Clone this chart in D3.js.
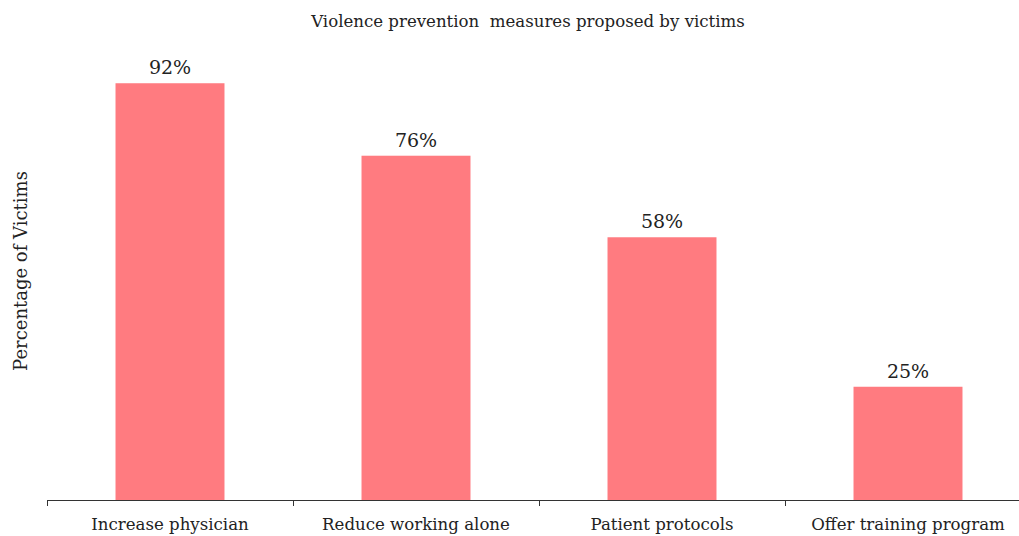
<!DOCTYPE html>
<html><head><meta charset="utf-8">
<script src="https://cdn.jsdelivr.net/npm/d3@7"></script>
<style>body{margin:0;background:#fff;}svg{display:block;}text{font-family:"DejaVu Serif",serif;fill:#222;}</style>
</head><body>
<svg id="c" width="1019" height="536"></svg>
<script>
const categories = ["Increase physician", "Reduce working alone", "Patient protocols", "Offer training program"];
const values = [92, 76, 58, 25];
const valueLabels = ["92%", "76%", "58%", "25%"];
const title = "Violence prevention  measures proposed by victims";
const yLabel = "Percentage of Victims";

const svg = d3.select("#c");
const x = d3.scaleBand().domain(categories).range([47, 1031]).paddingInner(0.557).paddingOuter(0.2785);
const y = d3.scaleLinear().domain([0, 100]).range([500, 47]);

svg.selectAll("rect.bar").data(values).enter().append("rect")
  .attr("class", "bar")
  .attr("x", (d, i) => x(categories[i]))
  .attr("width", x.bandwidth())
  .attr("y", d => y(d))
  .attr("height", d => y(0) - y(d))
  .attr("fill", "#FF7B80");

svg.selectAll("text.val").data(values).enter().append("text")
  .attr("class", "val")
  .attr("x", (d, i) => x(categories[i]) + x.bandwidth() / 2)
  .attr("y", d => y(d) - 9)
  .attr("text-anchor", "middle")
  .attr("font-size", 19)
  .text((d, i) => valueLabels[i]);

const bounds = d3.range(categories.length + 1).map(i => 47 + i * x.step());
const ax = svg.append("g");
ax.append("line").attr("x1", 47).attr("x2", 1031).attr("y1", 500.5).attr("y2", 500.5).attr("stroke", "#333").attr("stroke-width", 1);
ax.selectAll("line.tk").data(bounds).enter().append("line")
  .attr("class", "tk")
  .attr("x1", d => Math.round(d) + 0.5).attr("x2", d => Math.round(d) + 0.5)
  .attr("y1", 500).attr("y2", 506).attr("stroke", "#333");
ax.selectAll("text.cat").data(categories).enter().append("text")
  .attr("class", "cat")
  .attr("x", d => x(d) + x.bandwidth() / 2)
  .attr("y", 530)
  .attr("text-anchor", "middle")
  .attr("font-size", 16.6)
  .text(d => d);

svg.append("text").attr("x", 528).attr("y", 27).attr("text-anchor", "middle")
  .attr("font-size", 16.6).style("white-space", "pre").text(title);

svg.append("text").attr("transform", "translate(27,271) rotate(-90)")
  .attr("text-anchor", "middle").attr("font-size", 18).text(yLabel);
</script>
</body></html>
